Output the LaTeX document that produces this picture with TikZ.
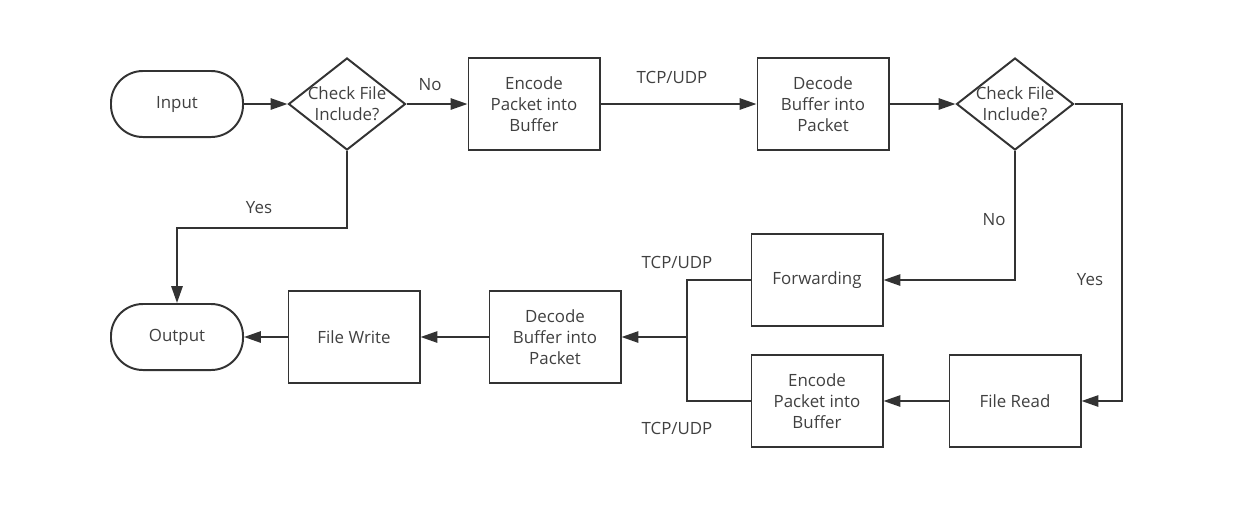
\documentclass[tikz,border=0pt]{standalone}
\usepackage{fontspec}
\setmainfont{Open Sans}
\usetikzlibrary{shapes.geometric,arrows.meta}
\definecolor{linegray}{HTML}{333333}
\definecolor{textgray}{HTML}{404040}
\tikzset{
  base/.style = {draw = linegray, line width = 1.4pt, text = textgray, align = center, font = \fontsize{12}{15}\selectfont},
  startstop/.style = {base, rectangle, rounded corners = 0.8cm, minimum width = 3.3cm, minimum height = 1.65cm},
  process/.style = {base, rectangle, minimum width = 3.275cm, minimum height = 2.3cm, inner sep = 0pt},
  decision/.style = {base, diamond, minimum width = 2.925cm, minimum height = 2.3cm, inner sep = 0pt},
  flow/.style = {draw = linegray, line width = 1.4pt, -{Triangle[length = 0.42cm, width = 0.28cm]}},
  link/.style = {draw = linegray, line width = 1.4pt},
  tag/.style = {text = textgray, font = \fontsize{12}{15}\selectfont, align = center}
}
\begin{document}
\begin{tikzpicture}[x = 0.025cm, y = -0.025cm]
\useasboundingbox (0,0) rectangle (1240,516);
% top row
\node[startstop] (input) at (177,104) {Input};
\node[decision, label = {[tag]center:Check File\\Include?}] (check1) at (347,104) {};
\node[process] (encode1) at (534,104) {Encode\\Packet into\\Buffer};
\node[process] (decode1) at (823,104) {Decode\\Buffer into\\Packet};
\node[decision, label = {[tag]center:Check File\\Include?}] (check2) at (1015,104) {};
% right side
\node[process] (forward) at (817,280) {Forwarding};
\node[process] (encode2) at (817,401) {Encode\\Packet into\\Buffer};
\node[process] (read) at (1015,401) {File Read};
% bottom row
\node[process] (decode2) at (555,337) {Decode\\Buffer into\\Packet};
\node[process] (write) at (354,337) {File Write};
\node[startstop] (output) at (177,337) {Output};
\coordinate (join) at (687,337);
% connectors
\draw[flow] (input) -- (check1);
\draw[flow] (check1) -- (encode1);
\draw[flow] (encode1) -- (decode1);
\draw[flow] (decode1) -- (check2);
\draw[flow] (check1.south) -- ++(0,77) -| (output.north);
\draw[flow] (check2.south) |- (forward.east);
\draw[flow] (check2.east) -- ++(47,0) |- (read.east);
\draw[flow] (read) -- (encode2);
\draw[link] (forward.west) -| (join);
\draw[link] (encode2.west) -| (join);
\draw[flow] (join) -- (decode2);
\draw[flow] (decode2) -- (write);
\draw[flow] (write) -- (output);
% labels
\node[tag] (no1) at (430,85) {No};
\node[tag] (tcp1) at (672,77) {TCP/UDP};
\node[tag] (yes1) at (259,208) {Yes};
\node[tag] (no2) at (994,220) {No};
\node[tag] (yes2) at (1090,280) {Yes};
\node[tag] (tcp2) at (677,262) {TCP/UDP};
\node[tag] (tcp3) at (677,428) {TCP/UDP};
\end{tikzpicture}
\end{document}
